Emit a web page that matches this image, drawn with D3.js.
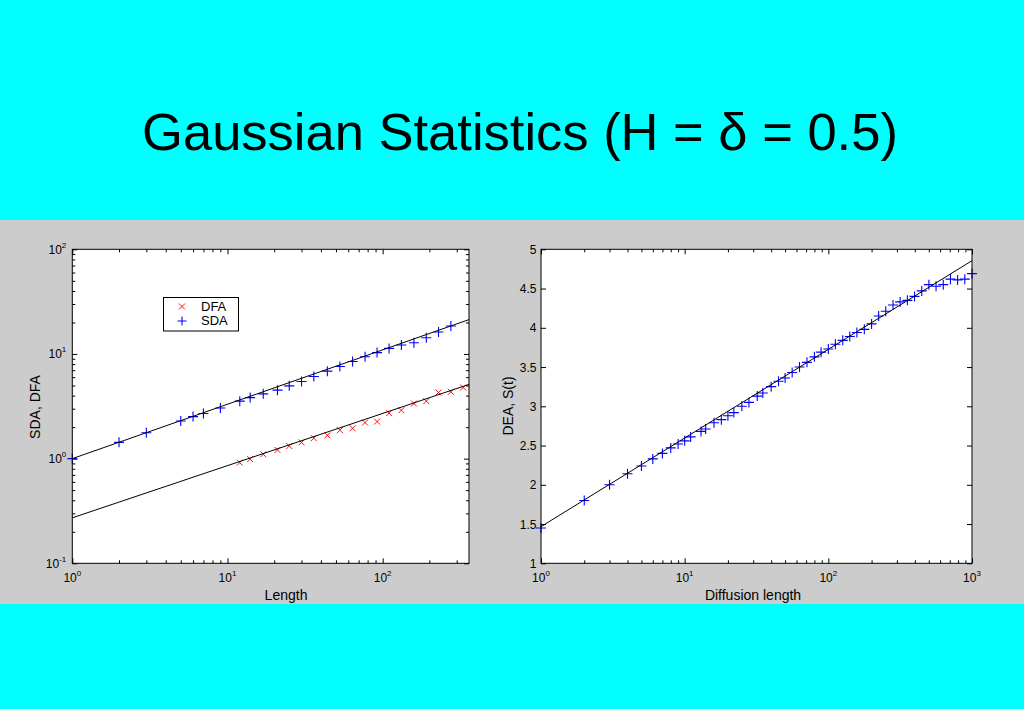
<!DOCTYPE html>
<html><head><meta charset="utf-8">
<script src="https://cdn.jsdelivr.net/npm/d3@7"></script>
<style>html,body{margin:0;padding:0;background:#00ffff;} svg{display:block}</style>
</head><body>
<svg id="c" width="1024" height="709"></svg>
<script>
// ---- Data ----
const title = "Gaussian Statistics (H = δ = 0.5)";

// Left panel: SDA and DFA vs Length (log-log)
const sdaLen = [1,2,3,5,6,7,9,12,14,17,21,25,30,36,44,53,64,77,92,110,132,159,191,229,275];
const sdaVal = [1.0,1.43,1.77,2.29,2.52,2.70,3.05,3.54,3.83,4.16,4.51,4.96,5.46,6.09,6.85,7.59,8.47,9.40,10.3,11.3,12.2,12.8,14.3,16.2,18.5];
const dfaLen = [12,14,17,21,25,30,36,44,53,64,77,92,110,132,159,191,229,275,330];
const dfaVal = [0.916,0.99,1.10,1.21,1.32,1.43,1.57,1.67,1.87,1.95,2.21,2.26,2.72,2.90,3.36,3.54,4.28,4.35,4.78];
const sdaFitX = [1, 360], sdaFitY = [1.0, 21.3];
const dfaFitX = [1, 360], dfaFitY = [0.272, 5.12];
const leftXDomain = [1, 360], leftYDomain = [0.1, 100];
const leftXMajor = [1, 10, 100], leftYMajor = [0.1, 1, 10, 100];
const legendLabels = ["DFA", "SDA"];

// Right panel: DEA S(t) vs diffusion length (semilog-x)
const deaT = [1,2,3,4,5,6,7,8,9,10,11,13,14,16,18,20,22,25,28,32,35,40,45,50,56,63,71,80,89,100,112,126,141,158,178,200,224,251,282,316,355,398,447,501,562,631,708,794,891,1000];
const deaS = [1.45,1.80,2.00,2.14,2.24,2.33,2.40,2.47,2.52,2.56,2.61,2.68,2.71,2.79,2.83,2.88,2.92,3.00,3.05,3.13,3.17,3.25,3.32,3.36,3.43,3.50,3.56,3.63,3.69,3.73,3.79,3.84,3.89,3.94,3.98,4.05,4.15,4.21,4.29,4.33,4.35,4.40,4.47,4.55,4.53,4.55,4.62,4.61,4.62,4.69];
const deaFitX = [1, 1000], deaFitY = [1.467, 4.855];
const rightXDomain = [1, 1000], rightYDomain = [1, 5];
const rightXMajor = [1, 10, 100, 1000];
const rightYTicks = [1, 1.5, 2, 2.5, 3, 3.5, 4, 4.5, 5];

const axisLabels = {leftX: "Length", leftY: "SDA, DFA", rightX: "Diffusion length", rightY: "DEA, S(t)"};

// ---- Drawing ----
const FONT = "'Liberation Sans', Arial, Helvetica, sans-serif";
const BLUE = "#0000ff", RED = "#ff1010";
const svg = d3.select("#c");
svg.append("rect").attr("width",1024).attr("height",709).attr("fill","#00ffff");
svg.append("rect").attr("x",0).attr("y",220).attr("width",1024).attr("height",384).attr("fill","#cccccc");
svg.append("text").attr("x",520).attr("y",150).attr("text-anchor","middle")
  .style("font-family",FONT).style("font-size","52.5px").attr("fill","#000").text(title);

const plusPath = "M-5,0H5M0,-5V5";
const crossPath = "M-3,-3L3,3M-3,3L3,-3";

function tickAxis(g, axisFn, scale, vals, size){
  g.call(axisFn(scale).tickValues(vals).tickSize(-size).tickSizeOuter(0).tickFormat(""));
  g.select(".domain").remove();
  g.selectAll("line").attr("stroke","#000").attr("stroke-width",1);
}
function logMinor(scale){
  return scale.ticks().filter(v => Math.abs(Math.log10(v) - Math.round(Math.log10(v))) > 1e-9);
}
function powText(g, x, y, anchor, v){
  const e = Math.round(Math.log10(v));
  const t = g.append("text").attr("x",x).attr("y",y).attr("text-anchor",anchor)
    .style("font-family",FONT).style("font-size","12px").attr("fill","#000");
  t.append("tspan").text("10");
  t.append("tspan").attr("dy",-6).style("font-size","8px").text(e);
}

function panel(P, xs, ys, xMajor, yMajor, yLog, yPad){
  const g = svg.append("g");
  g.append("rect").attr("x",P.x0).attr("y",P.y0).attr("width",P.x1-P.x0).attr("height",P.y1-P.y0).attr("fill","#fff");
  const xMinor = logMinor(xs);
  tickAxis(g.append("g").attr("transform",`translate(0,${P.y1})`), d3.axisBottom, xs, xMinor, 3);
  tickAxis(g.append("g").attr("transform",`translate(0,${P.y1})`), d3.axisBottom, xs, xMajor, 5);
  tickAxis(g.append("g").attr("transform",`translate(0,${P.y0})`), d3.axisTop, xs, xMinor, 3);
  tickAxis(g.append("g").attr("transform",`translate(0,${P.y0})`), d3.axisTop, xs, xMajor, 5);
  if (yLog){
    const yMinor = logMinor(ys);
    tickAxis(g.append("g").attr("transform",`translate(${P.x0},0)`), d3.axisLeft, ys, yMinor, 3);
    tickAxis(g.append("g").attr("transform",`translate(${P.x1},0)`), d3.axisRight, ys, yMinor, 3);
  }
  tickAxis(g.append("g").attr("transform",`translate(${P.x0},0)`), d3.axisLeft, ys, yMajor, 5);
  tickAxis(g.append("g").attr("transform",`translate(${P.x1},0)`), d3.axisRight, ys, yMajor, 5);
  xMajor.forEach(v => powText(g, xs(v), P.y1+19, "middle", v));
  if (yLog) yMajor.forEach(v => powText(g, P.x0-yPad, ys(v)+4.5, "end", v));
  else yMajor.forEach(v => g.append("text").attr("x",P.x0-yPad).attr("y",ys(v)+4.5).attr("text-anchor","end")
      .style("font-family",FONT).style("font-size","12px").attr("fill","#000").text(d3.format("")(v)));
  return g;
}

// Left
const L = {x0:72.3, x1:469, y0:249.3, y1:563.3};
const xL = d3.scaleLog().domain(leftXDomain).range([L.x0, L.x1]);
const yL = d3.scaleLog().domain(leftYDomain).range([L.y1, L.y0]);
const gL = panel(L, xL, yL, leftXMajor, leftYMajor, true, 6);
gL.selectAll(".sda").data(sdaLen.map((x,i)=>[x,sdaVal[i]])).join("path").attr("class","sda")
  .attr("d",plusPath).attr("transform",d=>`translate(${xL(d[0])},${yL(d[1])})`)
  .attr("stroke",BLUE).attr("stroke-width",1.1).attr("fill","none");
gL.selectAll(".dfa").data(dfaLen.map((x,i)=>[x,dfaVal[i]])).join("path").attr("class","dfa")
  .attr("d",crossPath).attr("transform",d=>`translate(${xL(d[0])},${yL(d[1])})`)
  .attr("stroke",RED).attr("stroke-width",1).attr("fill","none");
const lineL = d3.line().x(d=>xL(d[0])).y(d=>yL(d[1]));
gL.append("path").attr("d",lineL(sdaFitX.map((x,i)=>[x,sdaFitY[i]]))).attr("stroke","#000").attr("fill","none").attr("stroke-width",1);
gL.append("path").attr("d",lineL(dfaFitX.map((x,i)=>[x,dfaFitY[i]]))).attr("stroke","#000").attr("fill","none").attr("stroke-width",1);
gL.append("rect").attr("x",L.x0).attr("y",L.y0).attr("width",L.x1-L.x0).attr("height",L.y1-L.y0).attr("fill","none").attr("stroke","#000");

// legend
const lg = gL.append("g");
lg.append("rect").attr("x",163.5).attr("y",297.5).attr("width",75).attr("height",33.5).attr("fill","#fff").attr("stroke","#000");
lg.append("path").attr("d",crossPath).attr("transform","translate(182,306.5)").attr("stroke",RED).attr("fill","none");
lg.append("path").attr("d","M-4.5,0H4.5M0,-4.5V4.5").attr("transform","translate(182,321)").attr("stroke",BLUE).attr("stroke-width",1.1).attr("fill","none");
legendLabels.forEach((t,i)=>lg.append("text").attr("x",201).attr("y",311+i*14.3)
  .style("font-family",FONT).style("font-size","13px").attr("fill","#000").text(t));

// Right
const R = {x0:541, x1:972, y0:249.3, y1:563.3};
const xR = d3.scaleLog().domain(rightXDomain).range([R.x0, R.x1]);
const yR = d3.scaleLinear().domain(rightYDomain).range([R.y1, R.y0]);
const gR = panel(R, xR, yR, rightXMajor, rightYTicks, false, 4.5);
gR.selectAll(".dea").data(deaT.map((x,i)=>[x,deaS[i]])).join("path").attr("class","dea")
  .attr("d",plusPath).attr("transform",d=>`translate(${xR(d[0])},${yR(d[1])})`)
  .attr("stroke",BLUE).attr("stroke-width",1.1).attr("fill","none");
const lineR = d3.line().x(d=>xR(d[0])).y(d=>yR(d[1]));
gR.append("path").attr("d",lineR(deaFitX.map((x,i)=>[x,deaFitY[i]]))).attr("stroke","#000").attr("fill","none").attr("stroke-width",1);
gR.append("rect").attr("x",R.x0).attr("y",R.y0).attr("width",R.x1-R.x0).attr("height",R.y1-R.y0).attr("fill","none").attr("stroke","#000");

// axis labels
function label(x,y,t,rot){
  svg.append("text").attr("transform",`translate(${x},${y})${rot?" rotate(-90)":""}`).attr("text-anchor","middle")
    .style("font-family",FONT).style("font-size","14px").attr("fill","#000").text(t);
}
label(286,600,axisLabels.leftX,false);
label(753,600,axisLabels.rightX,false);
label(40,407,axisLabels.leftY,true);
label(513,406,axisLabels.rightY,true);
</script>
</body></html>
